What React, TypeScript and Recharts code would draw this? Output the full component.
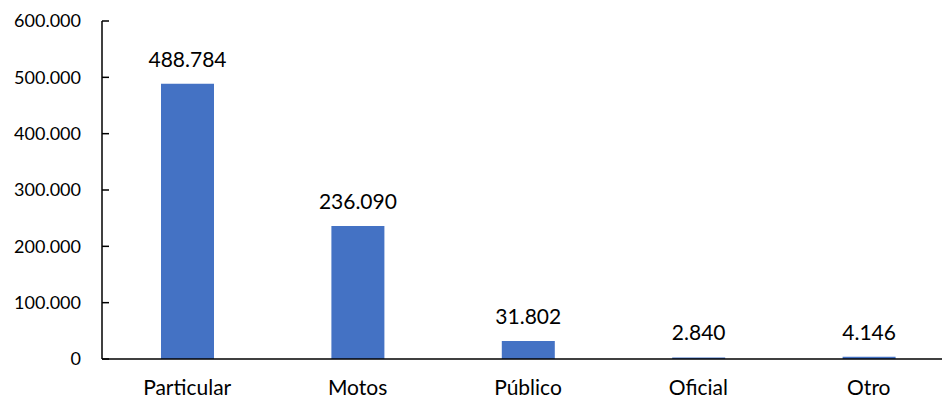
import React from "react";
import { BarChart, Bar, XAxis, YAxis, LabelList } from "recharts";

const categories = ["Particular", "Motos", "Público", "Oficial", "Otro"];
const values = [488784, 236090, 31802, 2840, 4146];
const yTicks = [0, 100000, 200000, 300000, 400000, 500000, 600000];

const data = categories.map((name, i) => ({ name, value: values[i] }));

const fmt = (v: number) =>
  String(v).replace(/\B(?=(\d{3})+(?!\d))/g, ".");

const FONT = "Lato, 'Open Sans', sans-serif";

export default function App() {
  return (
    <div
      style={{
        position: "absolute",
        left: 0,
        top: 0,
        width: 942,
        height: 401,
        overflow: "hidden",
        background: "#fff",
      }}
    >
      <BarChart
        width={960}
        height={401}
        data={data}
        margin={{ top: 21, right: 6, bottom: 0, left: 0 }}
      >
        <YAxis
          width={102}
          domain={[0, 600000]}
          ticks={yTicks}
          interval={0}
          tickFormatter={fmt}
          axisLine={{ stroke: "#000", strokeWidth: 1.5 }}
          tickLine={{ stroke: "#000", strokeWidth: 1.5 }}
          tickSize={-7}
          tickMargin={28}
          tick={{ fill: "#000", fontSize: 18, fontFamily: FONT }}
        />
        <XAxis
          dataKey="name"
          height={42}
          axisLine={{ stroke: "#000", strokeWidth: 1.5 }}
          tickLine={false}
          tickMargin={15}
          tick={{ fill: "#000", fontSize: 21, fontFamily: FONT }}
        />
        <Bar dataKey="value" fill="#4472C4" barSize={53} isAnimationActive={false}>
          <LabelList
            dataKey="value"
            position="top"
            offset={17}
            formatter={(v: any) => fmt(Number(v))}
            style={{ fill: "#000", fontSize: 21, fontFamily: FONT }}
          />
        </Bar>
      </BarChart>
    </div>
  );
}
